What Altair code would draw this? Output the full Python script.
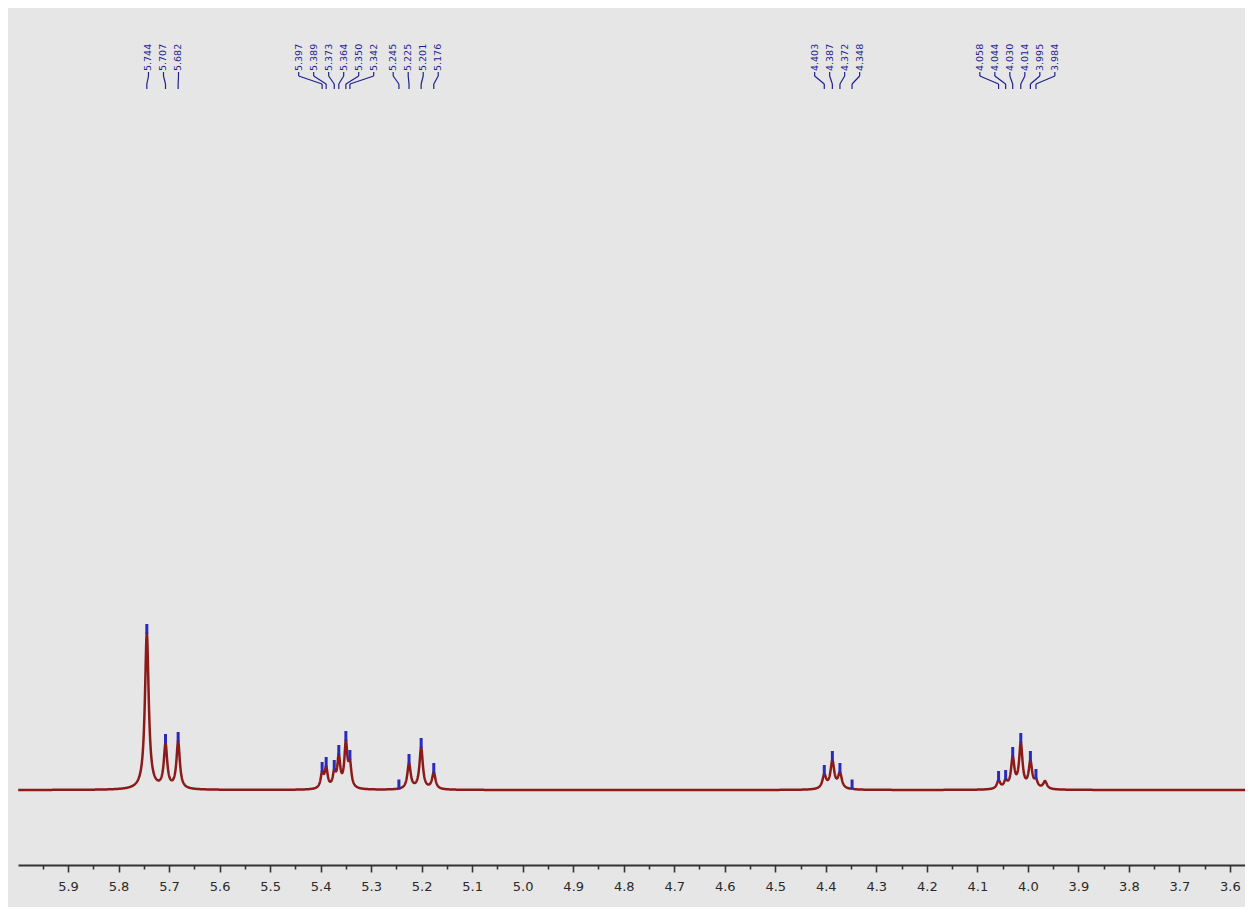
import altair as alt
import numpy as np
import pandas as pd

# ---- peak list ------------------------------------------------------------
# chemical shift (ppm), apparent height (arbitrary intensity units), line width (ppm)
peak_ppm = [5.744, 5.707, 5.682,
            5.397, 5.389, 5.373, 5.364, 5.350, 5.342,
            5.245, 5.225, 5.201, 5.176,
            4.403, 4.387, 4.372, 4.348,
            4.058, 4.044, 4.030, 4.014, 3.995, 3.984]
peak_height = [157, 47, 49,
               19, 24, 21, 36, 50, 31,
               1.5, 27, 43, 18,
               16, 30, 18, 1.5,
               10, 11, 34, 48, 30, 12]
peak_fwhm = [0.009, 0.008, 0.008,
             0.007, 0.007, 0.007, 0.007, 0.007, 0.007,
             0.006, 0.008, 0.008, 0.008,
             0.009, 0.009, 0.009, 0.006,
             0.008, 0.008, 0.008, 0.008, 0.008, 0.008]
peak_labels = ["5.744", "5.707", "5.682",
               "5.397", "5.389", "5.373", "5.364", "5.350", "5.342",
               "5.245", "5.225", "5.201", "5.176",
               "4.403", "4.387", "4.372", "4.348",
               "4.058", "4.044", "4.030", "4.014", "3.995", "3.984"]

# small unlabelled signal
extra_ppm = [3.966]
extra_height = [9]
extra_fwhm = [0.009]

# axis
x_left, x_right = 5.999, 3.5702
tick_values = [round(3.6 + 0.05 * i, 2) for i in range(48)]

# ---- build the spectrum from the peak list (Lorentzian lines) ---------------
all_ppm = np.array(peak_ppm + extra_ppm)
all_h = np.array(peak_height + extra_height, dtype=float)
all_w = np.array(peak_fwhm + extra_fwhm)


def lor(x, c, w):
    return 1.0 / (1.0 + ((x - c) / (w / 2.0)) ** 2)


A = np.array([[lor(all_ppm[i], all_ppm[j], all_w[j]) for j in range(len(all_ppm))]
              for i in range(len(all_ppm))])
amp = np.clip(np.linalg.solve(A, all_h), 0, None)

grid = np.arange(x_right, x_left, 0.0004)
spec = np.zeros_like(grid)
for c, w, a in zip(all_ppm, all_w, amp):
    spec += a * lor(grid, c, w)
spec_df = pd.DataFrame({"ppm": grid, "intensity": spec})

# ---- label placement: cluster close peaks and spread their labels evenly ----
cluster_gap = 0.040
label_gap = 0.0297
order = sorted(range(len(peak_ppm)), key=lambda i: -peak_ppm[i])
clusters = [[order[0]]]
for i in order[1:]:
    if peak_ppm[clusters[-1][-1]] - peak_ppm[i] < cluster_gap:
        clusters[-1].append(i)
    else:
        clusters.append([i])
label_ppm = [0.0] * len(peak_ppm)
for cl in clusters:
    center = np.mean([peak_ppm[i] for i in cl])
    n = len(cl)
    for k, i in enumerate(cl):
        label_ppm[i] = center - (k - (n - 1) / 2.0) * label_gap

peaks_df = pd.DataFrame({"ppm": peak_ppm, "height": peak_height,
                         "label_ppm": label_ppm, "label": peak_labels})

# ---- chart ---------------------------------------------------------------
xscale = alt.Scale(domain=[x_right, x_left], reverse=True, nice=False, zero=False)
yscale = alt.Scale(domain=[-75, 779], nice=False, zero=False)

axis_col = "#333333"
major_test = "abs(datum.value*10 - round(datum.value*10)) < 0.001"

x_axis = alt.Axis(
    values=tick_values,
    labelExpr=f"{major_test} ? format(datum.value, '.1f') : ''",
    tickSize={"condition": {"test": major_test, "value": 7}, "value": 4},
    tickWidth=1.6, tickColor=axis_col,
    domainColor=axis_col, domainWidth=2,
    labelFont="DejaVu Sans", labelFontSize=13, labelColor="#2a2a2a",
    labelPadding=8, labelOverlap=False, labelFlush=False,
    grid=False, title=None,
)

spectrum = alt.Chart(spec_df).mark_line(color="#8b1a1a", strokeWidth=2.5).encode(
    x=alt.X("ppm:Q", scale=xscale, axis=x_axis),
    y=alt.Y("intensity:Q", scale=yscale, axis=None),
)

markers = alt.Chart(peaks_df).mark_rule(color="#2b2bbb", strokeWidth=3,
                                        yOffset=1, y2Offset=-9).encode(
    x=alt.X("ppm:Q", scale=xscale, axis=x_axis),
    y=alt.Y("height:Q", scale=yscale, axis=None),
    y2="height:Q",
)

label_col = "#1f1f8f"
labels = alt.Chart(peaks_df).mark_text(
    angle=270, align="left", baseline="middle", font="DejaVu Sans",
    fontSize=9.5, color=label_col,
).encode(
    x=alt.X("label_ppm:Q", scale=xscale, axis=x_axis),
    y=alt.value(60),
    text="label:N",
)

conn_a = alt.Chart(peaks_df).mark_rule(color=label_col, strokeWidth=1.2).encode(
    x=alt.X("label_ppm:Q", scale=xscale, axis=x_axis),
    y=alt.value(61), y2=alt.value(65),
)
conn_b = alt.Chart(peaks_df).mark_rule(color=label_col, strokeWidth=1.2).encode(
    x=alt.X("label_ppm:Q", scale=xscale, axis=x_axis),
    x2="ppm:Q",
    y=alt.value(65), y2=alt.value(73),
)
conn_c = alt.Chart(peaks_df).mark_rule(color=label_col, strokeWidth=1.2).encode(
    x=alt.X("ppm:Q", scale=xscale, axis=x_axis),
    y=alt.value(73), y2=alt.value(78),
)

chart = alt.layer(spectrum, markers, conn_a, conn_b, conn_c, labels).properties(
    width=1227, height=854,
    padding={"left": 10, "top": 3, "right": 0, "bottom": 42},
    autosize=alt.AutoSizeParams(type="none"),
).configure(background="#e6e6e6").configure_view(stroke=None)

chart.save("out.html", embed_options={"renderer": "svg", "actions": False})
